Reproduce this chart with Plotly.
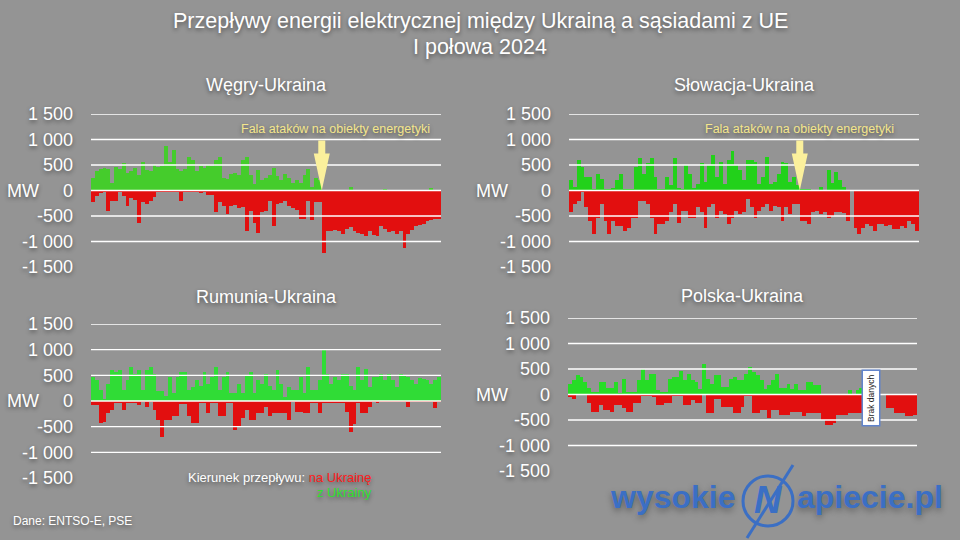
import pandas as pd
import plotly.graph_objects as go

# ---------------- data (2-day bins, 1 Jan - 30 Jun 2024, MW) ----------------
dates = pd.date_range("2024-01-01", periods=91, freq="2D")

panel_titles = ["Węgry-Ukraina", "Słowacja-Ukraina", "Rumunia-Ukraina", "Polska-Ukraina"]

y_tick_vals = [-1500, -1000, -500, 0, 500, 1000, 1500]
y_tick_text = ["-1 500", "-1 000", "-500", "0", "500", "1 000", "1 500"]
grid_vals = [-1000, -500, 0, 500, 1000, 1500]

# Węgry-Ukraina
hu_from_ua = [250, 380, 430, 450, 420, 150, 460, 420, 530, 350,
              380, 450, 300, 560, 400, 380, 500, 470, 480, 870,
              560, 800, 420, 380, 420, 650, 600, 380, 480, 450,
              500, 480, 600, 650, 250, 230, 330, 350, 300, 600,
              650, 300, 120, 400, 200, 250, 300, 450, 280, 200,
              330, 250, 150, 200, 150, 300, 420, 60, 250, 200,
              0, 0, 0, 0, 0, 0, 0, 60, 0, 0,
              0, 0, 0, 0, 0, 0, 30, 0, 0, 0,
              0, 0, 0, 0, 0, 0, 0, 0, 40, 0, 0]
hu_to_ua = [-230, -100, -50, -20, -400, -200, -200, -30, -100, -300,
            -150, -180, -630, -230, -270, -200, -130, -20, -20, -30,
            -20, -20, -20, -200, -30, -30, -20, -30, -40, -30,
            -80, -80, -430, -230, -300, -470, -300, -280, -350, -330,
            -800, -400, -630, -830, -430, -400, -200, -700, -260, -250,
            -200, -300, -350, -380, -550, -550, -200, -580, -230, -230,
            -1230, -800, -800, -780, -800, -850, -750, -720, -800, -830,
            -850, -900, -800, -870, -900, -700, -750, -820, -800, -850,
            -800, -1130, -850, -780, -700, -680, -650, -600, -580, -550, -550]

# Słowacja-Ukraina
sk_from_ua = [200, 60, 600, 470, 260, 260, 30, 330, 230, 30,
              30, 40, 200, 330, 30, 20, 30, 470, 630, 330,
              530, 630, 260, 30, 30, 260, 100, 630, 40, 30,
              500, 330, 40, 130, 530, 160, 500, 700, 260, 560,
              130, 600, 770, 500, 400, 200, 600, 600, 560, 130,
              260, 660, 130, 160, 330, 560, 530, 160, 260, 100,
              20, 10, 10, 0, 0, 60, 0, 400, 150, 360,
              200, 60, 0, 0, 0, 0, 0, 0, 0, 0,
              0, 0, 0, 0, 0, 0, 0, 0, 0, 0, 0]
sk_to_ua = [-430, -260, -200, -10, -330, -600, -860, -530, -260, -600,
            -860, -600, -700, -700, -800, -730, -530, -530, -200, -200,
            -260, -530, -860, -660, -660, -600, -430, -260, -630, -400,
            -400, -530, -530, -330, -430, -730, -330, -260, -530, -400,
            -460, -660, -530, -400, -460, -430, -170, -330, -530, -400,
            -330, -260, -400, -300, -330, -600, -330, -460, -260, -260,
            -600, -600, -660, -430, -400, -460, -420, -530, -500, -430,
            -430, -450, -600, 0, -730, -860, -730, -660, -700, -800,
            -660, -650, -700, -680, -760, -760, -700, -730, -600, -650, -800]

# Rumunia-Ukraina
ro_from_ua = [470, 400, 210, 20, 340, 600, 570, 600, 210, 400,
              660, 530, 600, 210, 600, 660, 530, 200, 200, 100,
              470, 150, 470, 570, 570, 210, 280, 400, 300, 570,
              340, 470, 660, 210, 470, 570, 150, 150, 340, 150,
              500, 570, 150, 400, 340, 530, 300, 210, 600, 340,
              80, 280, 210, 210, 470, 150, 660, 210, 210, 400,
              1020, 530, 340, 470, 400, 530, 530, 300, 210, 660,
              400, 630, 280, 470, 470, 530, 400, 530, 400, 280,
              530, 500, 470, 400, 340, 440, 420, 400, 340, 400, 470]
ro_to_ua = [-80, -80, -430, -400, -240, -175, -20, -20, -175, -20,
            -20, -20, -80, -10, -110, -10, -175, -370, -700, -370,
            -370, -300, -300, -50, -50, -300, -430, -430, -20, -20,
            -240, -20, -20, -300, -300, -20, -20, -560, -500, -340,
            -175, -370, -370, -240, -240, -110, -300, -240, -240, -240,
            -240, -370, -10, -210, -210, -240, -240, -20, -45, -240,
            -20, -20, -40, -40, -40, -40, -210, -600, -450, -20,
            -240, -240, -110, -10, -45, -10, -10, -10, -10, -10,
            -10, -10, -110, -10, -10, -10, -10, -10, -10, -140, -10]

# Polska-Ukraina (brak danych ok. 2-12 czerwca)
pl_from_ua = [210, 280, 380, 340, 250, 120, 50, 50, 250, 250,
              120, 120, 250, 20, 310, 50, 50, 50, 280, 500,
              280, 400, 400, 80, 50, 50, 310, 340, 340, 470,
              280, 400, 280, 250, 100, 600, 310, 210, 380, 380,
              150, 150, 310, 340, 280, 280, 400, 540, 440, 380,
              280, 100, 180, 280, 400, 120, 120, 210, 100, 210,
              80, 80, 250, 250, 180, 180, 0, 0, 0, 0,
              0, 0, 0, 80, 0, 80, 120, 0, 0, 0,
              0, 0, 0, 0, 0, 0, 0, 0, 0, 0, 0]
pl_to_ua = [-45, -80, 0, 0, 0, -175, -340, -340, -210, -300,
            -300, -340, -210, -210, -270, -340, -340, -175, -175, -10,
            -10, -10, -50, -210, -210, -175, -175, -10, -10, -10,
            -210, -210, -110, -175, -175, 0, -370, -370, -80, -80,
            -240, -240, -240, -370, -370, -240, -20, -20, -370, -370,
            -300, -300, -470, -300, -300, -400, -400, -400, -340, -340,
            -340, -430, -370, -370, -370, -370, -500, -600, -600, -550,
            -400, -400, -400, -370, -370, -370, -370, 0, 0, 0,
            0, 0, 0, -270, -270, -370, -370, -370, -430, -430, -400]

attack_date = "2024-04-29"
no_data_date = "2024-06-06"

# ---------------- styling ----------------
FONT = "Liberation Sans, Arial, Helvetica, sans-serif"
SHADOW = "0px 2px 4px rgba(0,0,0,0.45)"
BG = "#949494"
RED = "#e20f0f"
GREENS = ["#45cc2c", "#22d11a", "#30dc36", "#26dc26"]
W, H = 960, 540


def px_x(p):
    return p / W


def px_y(p):
    return 1 - p / H


panels = [
    dict(title=panel_titles[0], green=hu_from_ua, red=hu_to_ua,
         xd=[91, 441], yd=[114, 267], title_y=85, mw_x=5, arrow=True, txt_shift=14),
    dict(title=panel_titles[1], green=sk_from_ua, red=sk_to_ua,
         xd=[569, 919], yd=[114, 267], title_y=85, mw_x=474, arrow=True, txt_shift=0),
    dict(title=panel_titles[2], green=ro_from_ua, red=ro_to_ua,
         xd=[91, 441], yd=[324, 478], title_y=297, mw_x=5, arrow=False),
    dict(title=panel_titles[3], green=pl_from_ua, red=pl_to_ua,
         xd=[568, 917], yd=[318, 471], title_y=296, mw_x=474, arrow=False),
]

fig = go.Figure()
layout = dict(
    template="none",
    width=W, height=H, autosize=False,
    margin=dict(l=0, r=0, t=0, b=0, pad=0, autoexpand=False),
    paper_bgcolor=BG, plot_bgcolor="rgba(0,0,0,0)",
    barmode="relative", bargap=0,
    showlegend=False,
    font=dict(family=FONT, color="white"),
)
shapes = []
annotations = []

x_start = dates[0] - pd.Timedelta(days=1)
x_end = dates[-1] + pd.Timedelta(days=1)

for i, p in enumerate(panels):
    sfx = "" if i == 0 else str(i + 1)
    xa, ya = "x" + sfx, "y" + sfx
    fig.add_trace(go.Bar(x=dates, y=p["green"], marker=dict(color=GREENS[i], line=dict(width=0)),
                         xaxis=xa, yaxis=ya, hoverinfo="skip"))
    fig.add_trace(go.Bar(x=dates, y=p["red"], marker=dict(color=RED, line=dict(width=0)),
                         xaxis=xa, yaxis=ya, hoverinfo="skip"))
    layout["xaxis" + sfx] = dict(
        domain=[px_x(p["xd"][0]), px_x(p["xd"][1])], automargin=False,
        range=[x_start, x_end], type="date", visible=False, anchor=ya, fixedrange=True)
    layout["yaxis" + sfx] = dict(
        domain=[px_y(p["yd"][1]), px_y(p["yd"][0])], automargin=False,
        range=[-1500, 1500], anchor=xa,
        tickmode="array", tickvals=y_tick_vals, ticktext=y_tick_text,
        showgrid=False, zeroline=False, showline=False, ticks="",
        ticklabelstandoff=17,
        tickfont=dict(family=FONT, size=18, color="white", shadow=SHADOW),
        fixedrange=True)
    for v in grid_vals:
        shapes.append(dict(type="line", xref=xa + " domain", yref=ya, x0=0, x1=1, y0=v, y1=v,
                           line=dict(color="white", width=1.3), layer="above"))
    annotations.append(dict(text=p["title"], xref="paper", yref="paper",
                            x=px_x((p["xd"][0] + p["xd"][1]) / 2), y=px_y(p["title_y"]),
                            showarrow=False, xanchor="center", yanchor="middle",
                            font=dict(size=18, color="white", family=FONT, shadow=SHADOW)))
    annotations.append(dict(text="MW", xref="paper", yref=ya, x=px_x(p["mw_x"]), y=0,
                            showarrow=False, xanchor="left", yanchor="middle",
                            font=dict(size=18, color="white", family=FONT, shadow=SHADOW)))
    if p["arrow"]:
        annotations.append(dict(text="Fala ataków na obiekty energetyki", xref=xa, yref=ya,
                                x=attack_date, y=1200, xshift=p["txt_shift"], showarrow=False,
                                xanchor="center", yanchor="middle",
                                font=dict(size=12.5, color="#f4e68c", family=FONT, shadow=SHADOW)))
        shapes.append(dict(type="path", xref=xa, yref=ya, xsizemode="pixel", ysizemode="pixel",
                           xanchor=attack_date, yanchor=0,
                           path="M-3.5,50 L3.5,50 L3.5,37 L8,37 L0,0 L-8,37 L-3.5,37 Z",
                           fillcolor="#fbf09c", line=dict(width=0), layer="above"))

annotations.append(dict(text="Brak danych", xref="x4", yref="y4", x=no_data_date, y=0,
                        yshift=-3, showarrow=False, textangle=-90, bgcolor="white",
                        bordercolor="#5f83cc", borderwidth=1.5, borderpad=3,
                        font=dict(size=8.5, color="#222222", family=FONT)))

annotations.append(dict(text="Przepływy energii elektrycznej między Ukrainą a sąsiadami z UE",
                        xref="paper", yref="paper", x=0.5, y=px_y(21), showarrow=False,
                        xanchor="center", yanchor="middle",
                        font=dict(size=21.5, color="white", family=FONT, shadow=SHADOW)))
annotations.append(dict(text="I połowa 2024", xref="paper", yref="paper", x=0.5, y=px_y(47),
                        showarrow=False, xanchor="center", yanchor="middle",
                        font=dict(size=21.5, color="white", family=FONT, shadow=SHADOW)))

annotations.append(dict(text='Kierunek przepływu: <span style="color:#ff1c1c">na Ukrainę</span>',
                        xref="paper", yref="paper", x=px_x(374), y=px_y(477), showarrow=False,
                        xanchor="right", yanchor="middle",
                        font=dict(size=13, color="white", family=FONT, shadow=SHADOW)))
annotations.append(dict(text="z Ukrainy", xref="paper", yref="paper", x=px_x(374), y=px_y(492),
                        showarrow=False, xanchor="right", yanchor="middle",
                        font=dict(size=13, color="#2fe02f", family=FONT, shadow=SHADOW)))

annotations.append(dict(text="Dane: ENTSO-E, PSE", xref="paper", yref="paper", x=px_x(11),
                        y=px_y(521), showarrow=False, xanchor="left", yanchor="middle",
                        font=dict(size=12, color="white", family=FONT, shadow=SHADOW)))

LOGO = "#3b6fc4"
LOGO_FONT = "Liberation Sans, Arial, sans-serif"
LOGO_SHADOW = "0px 3px 6px rgba(0,0,0,0.35)"
annotations.append(dict(text="<b>wysokie</b>", xref="paper", yref="paper", x=px_x(738), y=px_y(497),
                        showarrow=False, xanchor="right", yanchor="middle",
                        font=dict(size=32, color=LOGO, family=LOGO_FONT, shadow=LOGO_SHADOW)))
annotations.append(dict(text="<b>apiecie.pl</b>", xref="paper", yref="paper", x=px_x(795), y=px_y(497),
                        showarrow=False, xanchor="left", yanchor="middle",
                        font=dict(size=32, color=LOGO, family=LOGO_FONT, shadow=LOGO_SHADOW)))
annotations.append(dict(text="<b><i>N</i></b>", xref="paper", yref="paper", x=px_x(768), y=px_y(500),
                        showarrow=False, xanchor="center", yanchor="middle",
                        font=dict(size=38, color=LOGO, family=LOGO_FONT)))
shapes.append(dict(type="circle", xref="paper", yref="paper",
                   x0=px_x(743), x1=px_x(793), y0=px_y(526), y1=px_y(476),
                   line=dict(color=LOGO, width=3)))
shapes.append(dict(type="line", xref="paper", yref="paper",
                   x0=px_x(793), y0=px_y(465), x1=px_x(747), y1=px_y(538),
                   line=dict(color=LOGO, width=3)))

layout["shapes"] = shapes
layout["annotations"] = annotations
fig.update_layout(**layout)
fig.write_html("out.html", config={"responsive": False, "displayModeBar": False})
